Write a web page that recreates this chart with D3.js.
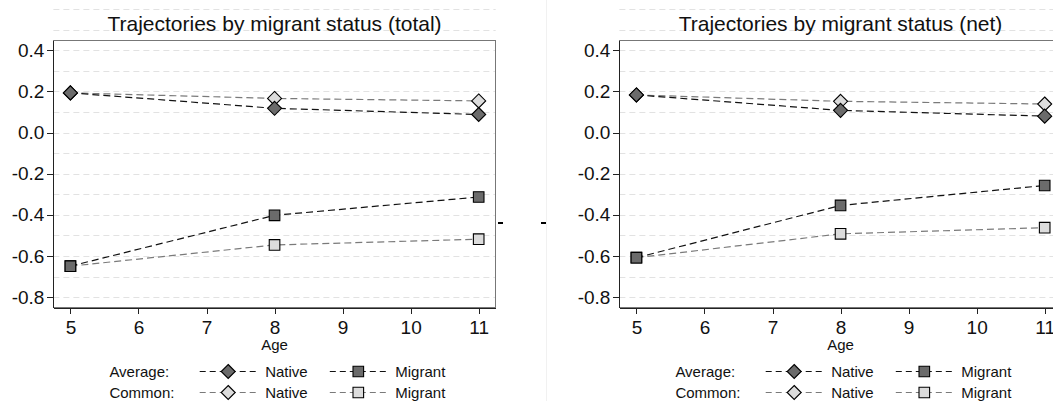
<!DOCTYPE html>
<html lang="en">
<head>
    <meta charset="UTF-8">
    <title>Trajectories by migrant status</title>
    <style>
        body { margin: 0; background: #fff; }
        svg { display: block; font-family: 'Liberation Sans', Arial, sans-serif; }
        .grid line { stroke: #e2e2e2; stroke-width: 1; stroke-dasharray: 6,4; }
        .axis text { font-size: 19px; fill: #111; }
        .axis line, .axis path { stroke: #222; stroke-width: 1; shape-rendering: crispEdges; }
    </style>
</head>
<body>
    <div id='chart'></div>

    <script src='https://cdnjs.cloudflare.com/ajax/libs/d3/7.8.5/d3.min.js'></script>
    <script type='text/javascript'>
        // data
        const ages = [5, 8, 11];
        const xTicks = [5, 6, 7, 8, 9, 10, 11];
        const yTicks = [0.4, 0.2, 0.0, -0.2, -0.4, -0.6, -0.8];
        const gridValues = [0.6, 0.5, 0.4, 0.3, 0.2, 0.1, 0.0, -0.1, -0.2, -0.3, -0.4, -0.5, -0.6, -0.7, -0.8];

        const titles = ['Trajectories by migrant status (total)', 'Trajectories by migrant status (net)'];

        const totalAvgNative = [0.193, 0.118, 0.088];
        const totalAvgMigrant = [-0.649, -0.402, -0.313];
        const totalComNative = [0.193, 0.166, 0.154];
        const totalComMigrant = [-0.649, -0.546, -0.518];

        const netAvgNative = [0.183, 0.108, 0.080];
        const netAvgMigrant = [-0.608, -0.354, -0.257];
        const netComNative = [0.183, 0.152, 0.139];
        const netComMigrant = [-0.608, -0.492, -0.462];

        const legendRows = ['Average:', 'Common:'];
        const legendItems = ['Native', 'Migrant'];

        const width = 1053;
        const height = 401;
        const panelShift = 566;
        const plot = { left: 53.4, right: 495.7, top: 40, bottom: 307.5 };

        const darkFill = '#6b6b6b';
        const lightFill = '#dcdcdc';
        const avgLine = '#111';
        const comLine = '#7a7a7a';

        const fmt = d3.formatLocale({ decimal: '.', thousands: ',', grouping: [3], currency: ['', ''], minus: '-' }).format('.1f');

        let svg = d3.select('#chart')
                    .append('svg')
                      .attr('width', width)
                      .attr('height', height);

        // faint panel boundary on the right graph
        svg.append('line')
             .attr('x1', 546.5).attr('x2', 546.5)
             .attr('y1', 0).attr('y2', height)
             .style('stroke', '#f1f1f1');

        let x = d3.scaleLinear().domain([4.75, 11.25]).range([plot.left, plot.right]);
        let y = d3.scaleLinear().domain([-0.85, 0.45]).range([plot.bottom, plot.top]);

        const diamond = (s) => `M0,${-s}L${s},0L0,${s}L${-s},0Z`;
        const square = (s) => `M${-s},${-s}H${s}V${s}H${-s}Z`;

        function drawMarker(g, shape, fill) {
            g.append('path')
               .attr('d', shape === 'diamond' ? diamond(7) : square(5.3))
               .style('fill', fill)
               .style('stroke', '#000')
               .style('stroke-width', 1.1);
        }

        const panels = [
            { title: titles[0], series: [
                { values: totalComNative, shape: 'diamond', fill: lightFill, line: comLine },
                { values: totalComMigrant, shape: 'square', fill: lightFill, line: comLine },
                { values: totalAvgNative, shape: 'diamond', fill: darkFill, line: avgLine },
                { values: totalAvgMigrant, shape: 'square', fill: darkFill, line: avgLine }
            ] },
            { title: titles[1], series: [
                { values: netComNative, shape: 'diamond', fill: lightFill, line: comLine },
                { values: netComMigrant, shape: 'square', fill: lightFill, line: comLine },
                { values: netAvgNative, shape: 'diamond', fill: darkFill, line: avgLine },
                { values: netAvgMigrant, shape: 'square', fill: darkFill, line: avgLine }
            ] }
        ];

        panels.forEach((p, pi) => {
            let viz = svg.append('g')
                          .attr('transform', `translate(${pi * panelShift}, 0)`);

            // dashed grid, runs up into the title area as in the original
            viz.append('g')
                 .attr('class', 'grid')
               .selectAll('line')
                 .data(gridValues)
                 .enter()
               .append('line')
                 .attr('x1', plot.left).attr('x2', plot.right)
                 .attr('y1', (d) => Math.round(y(d)) + 0.5)
                 .attr('y2', (d) => Math.round(y(d)) + 0.5);

            // plot box
            viz.append('rect')
                 .attr('x', plot.left).attr('y', plot.top)
                 .attr('width', plot.right - plot.left)
                 .attr('height', plot.bottom - plot.top)
                 .style('fill', 'none')
                 .style('stroke', '#777')
                 .style('shape-rendering', 'crispEdges');

            viz.append('text')
                 .attr('x', (plot.left + plot.right) / 2)
                 .attr('y', 31)
                 .attr('text-anchor', 'middle')
                 .style('font-size', '21px')
                 .style('fill', '#111')
                 .text(p.title);

            viz.append('g')
                 .attr('class', 'axis y-axis')
                 .attr('transform', `translate(${plot.left}, 0)`)
                 .call(d3.axisLeft(y).tickValues(yTicks).tickFormat(fmt).tickSize(6).tickSizeOuter(0).tickPadding(3));

            viz.append('g')
                 .attr('class', 'axis x-axis')
                 .attr('transform', `translate(0, ${plot.bottom})`)
                 .call(d3.axisBottom(x).tickValues(xTicks).tickFormat(d3.format('d')).tickSize(6).tickSizeOuter(0).tickPadding(7));

            viz.append('text')
                 .attr('x', (plot.left + plot.right) / 2)
                 .attr('y', 350)
                 .attr('text-anchor', 'middle')
                 .style('font-size', '15px')
                 .style('fill', '#111')
                 .text('Age');

            let line = d3.line()
                         .x((d, i) => x(ages[i]))
                         .y((d) => y(d));

            p.series.forEach((s) => {
                viz.append('path')
                     .attr('d', line(s.values))
                     .style('fill', 'none')
                     .style('stroke', s.line)
                     .style('stroke-width', 1.2)
                     .style('stroke-dasharray', '7,4');
            });

            p.series.forEach((s) => {
                s.values.forEach((v, i) => {
                    let g = viz.append('g').attr('transform', `translate(${x(ages[i])}, ${y(v)})`);
                    drawMarker(g, s.shape, s.fill);
                });
            });

            // legend: rows (Average / Common) by items (Native / Migrant)
            const rowY = [371.5, 392.5];
            const keyX = [228.2, 358.3];
            legendRows.forEach((row, ri) => {
                viz.append('text')
                     .attr('x', 109.4)
                     .attr('y', rowY[ri] + 5.3)
                     .style('font-size', '15px')
                     .style('fill', '#111')
                     .text(row);
                legendItems.forEach((item, ii) => {
                    let k = viz.append('g').attr('transform', `translate(${keyX[ii]}, ${rowY[ri]})`);
                    k.append('line')
                       .attr('x1', -28.5).attr('x2', 28)
                       .style('stroke', ri === 0 ? avgLine : comLine)
                       .style('stroke-width', 1.2)
                       .style('stroke-dasharray', '6,4');
                    drawMarker(k, ii === 0 ? 'diamond' : 'square', ri === 0 ? darkFill : lightFill);
                    viz.append('text')
                         .attr('x', keyX[ii] + 37)
                         .attr('y', rowY[ri] + 5.3)
                         .style('font-size', '15px')
                         .style('fill', '#111')
                         .text(item);
                });
            });
        });

        // two stray dashes between the graphs in the original
        svg.append('g')
           .selectAll('rect')
             .data([498, 541])
             .enter()
           .append('rect')
             .attr('x', (d) => d)
             .attr('y', 222)
             .attr('width', 5)
             .attr('height', 2)
             .style('fill', '#000');
    </script>
</body>
</html>
